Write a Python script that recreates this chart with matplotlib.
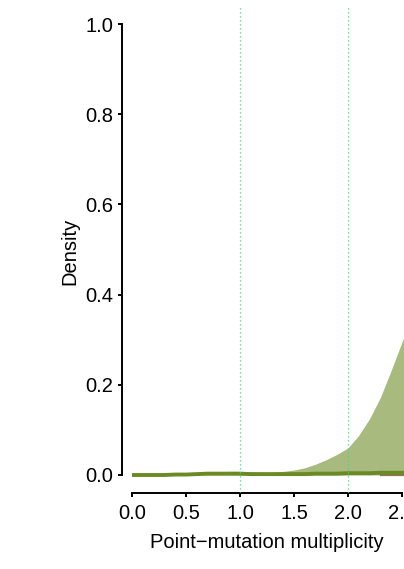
import matplotlib
matplotlib.use("Agg")
import matplotlib.pyplot as plt
import numpy as np

# values
mult = [0.0, 0.1, 0.2, 0.3, 0.4, 0.5, 0.6, 0.7, 0.8, 0.9, 1.0, 1.1, 1.2, 1.3,
        1.4, 1.5, 1.6, 1.7, 1.8, 1.9, 2.0, 2.1, 2.2, 2.3, 2.4, 2.5, 2.6]
dens_fill = [0.001, 0.001, 0.001, 0.001, 0.002, 0.002, 0.003, 0.005, 0.007, 0.008,
             0.008, 0.007, 0.006, 0.006, 0.008, 0.011, 0.016, 0.024, 0.034, 0.046,
             0.060, 0.088, 0.125, 0.172, 0.232, 0.295, 0.360]
dens_dark = [0.000, 0.000, 0.000, 0.000, 0.001, 0.001, 0.002, 0.003, 0.003, 0.003,
             0.003, 0.002, 0.002, 0.002, 0.002, 0.002, 0.002, 0.003, 0.003, 0.003,
             0.004, 0.004, 0.004, 0.005, 0.005, 0.005, 0.005]
dens_brown = [0.000, 0.000, 0.000, 0.000, 0.000, 0.000, 0.000, 0.000, 0.000, 0.000,
              0.000, 0.000, 0.000, 0.000, 0.000, 0.000, 0.000, 0.000, 0.000, 0.000,
              0.000, 0.000, 0.000, 0.000, 0.000, 0.000, 0.000]
ref_lines = [1.0, 2.0]
x_ticks = [0.0, 0.5, 1.0, 1.5, 2.0, 2.5]
y_ticks = [0.0, 0.2, 0.4, 0.6, 0.8, 1.0]

plt.rcParams["font.family"] = ["Liberation Sans", "DejaVu Sans"]
FS = 14.5

W, H = 404, 569
fig = plt.figure(figsize=(W / 100, H / 100), dpi=100)

# data -> pixels as in the reference: x=0 at 132px, 108 px per unit;
# y=0 at 475px, 451 px per unit; axes lines at x=122px and y=492.5px
xlo, xhi = -0.0926, 2.7
ylo, yhi = -(492.5 - 475) / 451, 1.04
left_px = 132 + xlo * 108
bot_px = 475 - ylo * 451
top_px = 475 - yhi * 451
ax = fig.add_axes([left_px / W, (H - bot_px) / H,
                   (xhi - xlo) * 108 / W, (bot_px - top_px) / H])

ax.fill_between(mult, 0, dens_fill, color="#a8ba7e", lw=0, zorder=1)
ax.plot(mult[-4:], dens_brown[-4:], color="#8b7355", lw=1.6, zorder=2,
        solid_capstyle="butt")
ax.plot(mult, dens_dark, color="#6b8a24", lw=2.8, zorder=3, solid_capstyle="butt")
for xv in ref_lines:
    ax.axvline(xv, color="#2fe07f", lw=0.9, ls=(0, (1, 2.2)), zorder=4)

ax.set_xlim(xlo, xhi)
ax.set_ylim(ylo, yhi)
ax.set_xticks(x_ticks)
ax.set_xticklabels([f"{v:.1f}" for v in x_ticks])
ax.set_yticks(y_ticks)
ax.set_yticklabels([f"{v:.1f}" for v in y_ticks])

for side in ("top", "right"):
    ax.spines[side].set_visible(False)
ax.spines["left"].set_bounds(0, 1)
ax.spines["bottom"].set_bounds(0, 2.5)
for side in ("left", "bottom"):
    ax.spines[side].set_linewidth(1.4)
ax.tick_params(axis="both", direction="out", length=3, width=1.4,
               labelsize=FS)
ax.tick_params(axis="x", pad=5)
ax.tick_params(axis="y", pad=3.5)

fig.text(266.5 / W, 1 - 533 / H, "Point\u2212mutation multiplicity",
         fontsize=FS, ha="center", va="top")
fig.text(70 / W, 1 - 251 / H, "Density", fontsize=FS, rotation=90,
         ha="center", va="center")

fig.savefig("out.png", dpi=100)
